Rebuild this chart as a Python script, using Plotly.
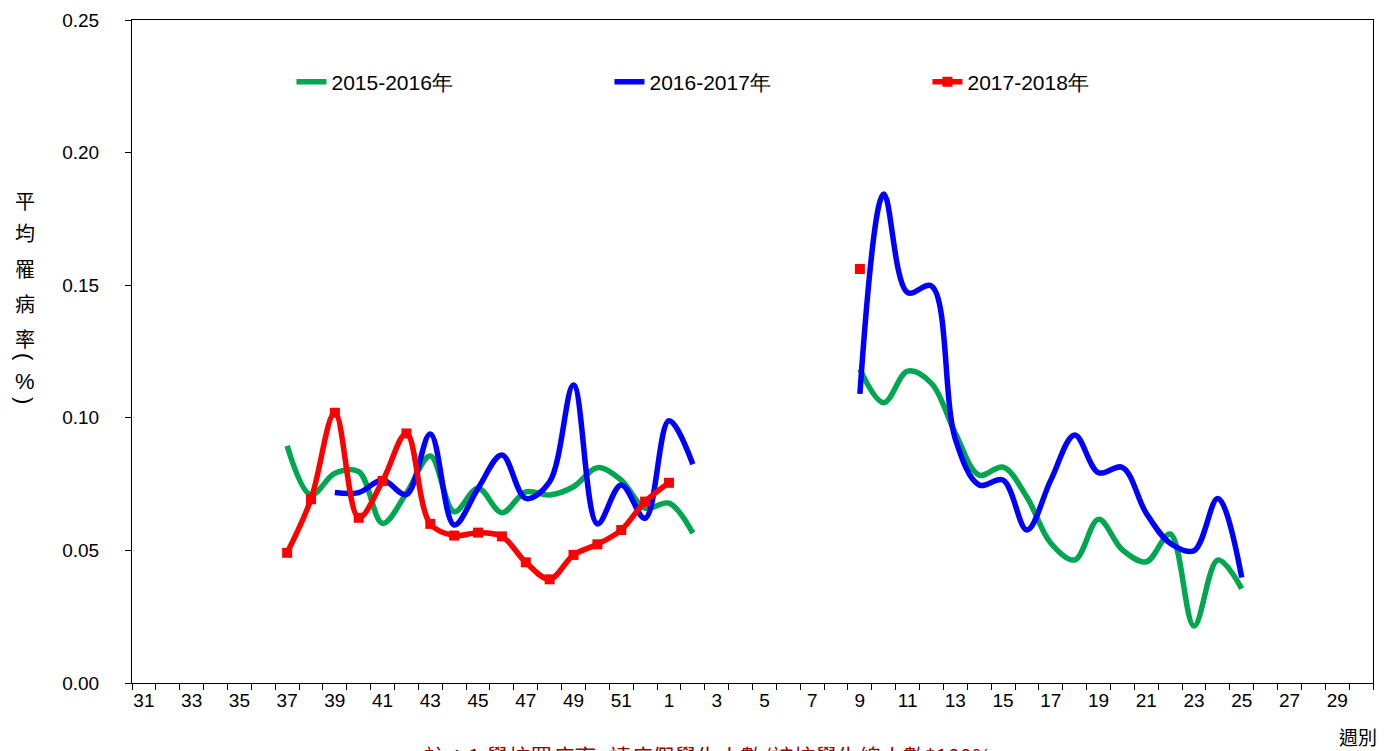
import plotly.graph_objects as go

# Category axis: epidemiological weeks
weeks = ["31", "32", "33", "34", "35", "36", "37", "38", "39", "40", "41", "42",
         "43", "44", "45", "46", "47", "48", "49", "50", "51", "52",
         "1", "2", "3", "4", "5", "6", "7", "8", "9", "10", "11", "12", "13",
         "14", "15", "16", "17", "18", "19", "20", "21", "22", "23", "24", "25",
         "26", "27", "28", "29", "30"]

# 2015-2016 (green)
g_weeks = ["37", "38", "39", "40", "41", "42", "43", "44", "45", "46", "47", "48",
           "49", "50", "51", "52", "1", "2",
           "9", "10", "11", "12", "13", "14", "15", "16", "17", "18", "19", "20",
           "21", "22", "23", "24", "25"]
g_vals = [0.0894, 0.0709, 0.0791, 0.0797, 0.0602, 0.0716, 0.0856, 0.0646, 0.0734,
          0.0642, 0.0721, 0.0709, 0.0740, 0.0812, 0.0765, 0.0659, 0.0678, 0.0565,
          0.1183, 0.1057, 0.1176, 0.1130, 0.0942, 0.0784, 0.0814, 0.0700, 0.0527,
          0.0464, 0.0617, 0.0502, 0.0457, 0.0562, 0.0215, 0.0464, 0.0356]

# 2016-2017 (blue)
b_weeks = ["39", "40", "41", "42", "43", "44", "45", "46", "47", "48", "49", "50",
           "51", "52", "1", "2",
           "9", "10", "11", "12", "13", "14", "15", "16", "17", "18", "19", "20",
           "21", "22", "23", "24", "25"]
b_vals = [0.0718, 0.0718, 0.0765, 0.0711, 0.0939, 0.0596, 0.0734, 0.0860, 0.0696,
          0.0759, 0.1124, 0.0600, 0.0747, 0.0621, 0.0989, 0.0825,
          0.1090, 0.1844, 0.1472, 0.1497, 0.0920, 0.0747, 0.0765, 0.0577, 0.0765,
          0.0935, 0.0793, 0.0813, 0.0640, 0.0527, 0.0499, 0.0696, 0.0398]

# 2017-2018 (red)
r_weeks = ["37", "38", "39", "40", "41", "42", "43", "44", "45", "46", "47", "48",
           "49", "50", "51", "52", "1", "9"]
r_vals = [0.0491, 0.0693, 0.1019, 0.0623, 0.0762, 0.0941, 0.0600, 0.0556, 0.0567,
          0.0553, 0.0455, 0.0391, 0.0483, 0.0523, 0.0577, 0.0684, 0.0755, 0.1561]

series_names = ["2015-2016年", "2016-2017年", "2017-2018年"]
y_ticks = [0.00, 0.05, 0.10, 0.15, 0.20, 0.25]
y_title_chars = ["平", "均", "罹", "病", "率", "(", "%", ")"]


def full(ws, vs):
    d = dict(zip(ws, vs))
    return [d.get(w) for w in weeks]


# plot-area edges in screen pixels (page body adds an 8px offset)
PL, PR, PT, PB = 132, 1373, 20, 683
OFF = 8


def px(xp):
    return (xp - PL) / (PR - PL)


def py(yp):
    return (PB - yp) / (PB - PT)


fig = go.Figure()
fig.add_trace(go.Scatter(x=weeks, y=full(g_weeks, g_vals), name=series_names[0],
                         mode="lines", line=dict(color="#00A650", width=5.5, shape="spline"),
                         connectgaps=False))
fig.add_trace(go.Scatter(x=weeks, y=full(b_weeks, b_vals), name=series_names[1],
                         mode="lines", line=dict(color="#0000FF", width=5.5, shape="spline"),
                         connectgaps=False))
fig.add_trace(go.Scatter(x=weeks, y=full(r_weeks, r_vals), name=series_names[2],
                         mode="lines+markers", line=dict(color="#FF0000", width=5.5, shape="spline"),
                         marker=dict(symbol="square", size=10, color="#FF0000"),
                         connectgaps=False))

ticktext = [w if i % 2 == 0 else "" for i, w in enumerate(weeks)]

W, H = 1384, 751
fig.update_layout(
    width=W, height=H,
    margin=dict(l=PL - OFF, r=W + OFF - PR, t=PT - OFF, b=H + OFF - PB, autoexpand=False),
    paper_bgcolor="white", plot_bgcolor="white",
    font=dict(family="Liberation Sans, Arial, sans-serif", size=19, color="black"),
    showlegend=True,
    legend=dict(orientation="h", x=0.1285, xanchor="left", y=py(82), yanchor="middle",
                bgcolor="rgba(0,0,0,0)", font=dict(size=21, family="Liberation Sans, Arial"),
                entrywidth=273, entrywidthmode="pixels", itemwidth=30),
    xaxis=dict(type="category", categoryorder="array", categoryarray=weeks,
               tickmode="array", tickvals=weeks, ticktext=ticktext, tickangle=0,
               tickson="boundaries", ticks="outside", ticklen=6, tickcolor="black",
               showline=True, linecolor="black", linewidth=1, mirror=True,
               showgrid=False, zeroline=False, tickfont=dict(size=19),
               automargin=False, range=[-0.5, len(weeks) - 0.5]),
    yaxis=dict(range=[0, 0.25], tickmode="array", tickvals=y_ticks,
               tickformat=".2f", ticks="outside", ticklen=6, tickcolor="black",
               ticklabelstandoff=22,
               showline=True, linecolor="black", linewidth=1, mirror=True,
               showgrid=False, zeroline=False, tickfont=dict(size=19),
               automargin=False),
)

# vertical y-axis title, one upright character per line (brackets turned sideways)
ys_px = [200, 233, 268, 303, 338, 357, 381, 400]
angles = [0, 0, 0, 0, 0, 90, 0, 90]
for ch, ypx, ang in zip(y_title_chars, ys_px, angles):
    cjk = ch not in "()%"
    fig.add_annotation(text=ch, xref="paper", yref="paper",
                       x=px(25), y=py(ypx), textangle=ang,
                       xanchor="center", yanchor="middle", showarrow=False,
                       font=dict(family="Noto Sans CJK TC" if cjk else "Liberation Sans",
                                 size=20 if cjk else 22, color="black"))

fig.add_annotation(text="週別", xref="paper", yref="paper",
                   x=px(1358), y=py(736),
                   xanchor="center", yanchor="middle", showarrow=False,
                   font=dict(family="Noto Sans CJK TC", size=19, color="black"))

fig.add_annotation(text="註：1.學校罹病率=請病假學生人數/該校學生總人數*100%",
                   xref="paper", yref="paper",
                   x=px(708), y=py(755),
                   xanchor="center", yanchor="middle", showarrow=False,
                   font=dict(family="Noto Sans CJK TC", size=22, color="#990000"))

fig.write_html("out.html")
